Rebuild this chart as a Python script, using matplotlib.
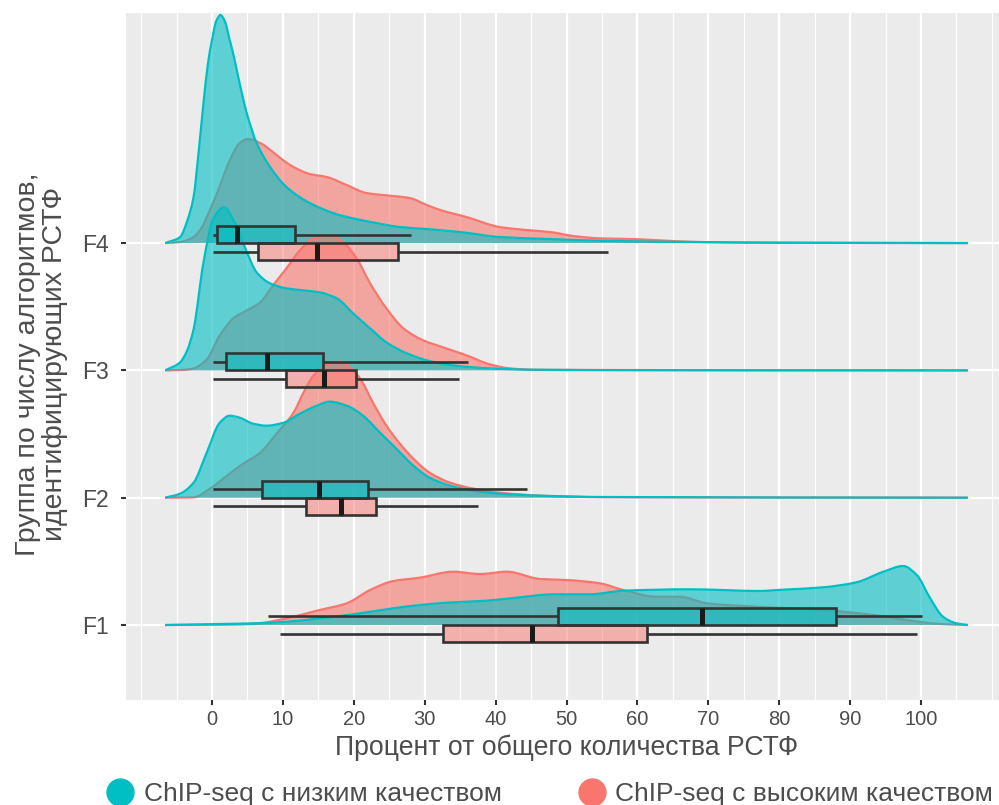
import numpy as np
import matplotlib
matplotlib.use("Agg")
import matplotlib.pyplot as plt
from matplotlib.path import Path
from matplotlib.patches import PathPatch, Rectangle
from matplotlib.lines import Line2D

plt.rcParams['font.family'] = ['Liberation Sans', 'DejaVu Sans']

# groups (bottom to top) and quality classes
groups = ['F1', 'F2', 'F3', 'F4']
labels_low = 'ChIP-seq с низким качеством'
labels_high = 'ChIP-seq с высоким качеством'
teal = '#00BFC4'
red = '#F8766D'

# density estimates, height in ridge units x 127.3
dens_low = {
    'F4': ([-6.6, -4.5, -3.5, -2.6, -1.9, -1.2, -0.6, 0, 0.6, 1.2, 1.8, 2.5, 3.1, 3.7, 4.9, 6.3, 8.2,
            10.5, 13.8, 18, 23.2, 26.5, 30.3, 35, 40.6, 47.7, 54.7, 68.8, 80, 106.6],
           [0, 6, 22, 46, 90, 140, 178, 203, 222, 228, 222, 203, 186, 166, 130, 100, 76,
            56, 40, 28, 20, 16, 14, 11, 6, 4, 2.3, 1, 0.4, 0]),
    'F3': ([-6.6, -4.5, -3.5, -2.6, -1.2, 0.2, 1.7, 3.2, 4.7, 6.3, 8.2, 10.5, 12.9, 15.2, 17.6, 19.9,
            22.3, 24.6, 27.5, 30.3, 34, 39.2, 45, 60, 106.6],
           [0, 8, 20, 41, 108, 152, 163, 148, 122, 98, 87, 82, 80, 78, 72, 57,
            42, 28, 17, 10, 5, 2, 0.7, 0.2, 0]),
    'F2': ([-6.6, -4.5, -2.6, -0.75, 1.1, 2.5, 3.9, 5.8, 7.7, 10.1, 12.4, 14.8, 16.6, 19, 21.3, 23.7,
            26, 28.4, 30.7, 33.6, 36.9, 40.6, 46.3, 55, 106.6],
           [0, 4, 15, 45, 75, 82, 80, 74, 72, 75, 84, 92, 96, 92, 82, 65,
            49, 32, 20, 12, 7, 4, 2, 0.7, 0]),
    'F1': ([-6.6, 1.1, 5.8, 10.5, 15.2, 19.9, 24.6, 29.3, 34, 38.7, 43.4, 48.1, 53.3, 58, 67.4, 72,
            76.8, 81, 86.2, 90.9, 94.7, 97.5, 99.4, 101.3, 103.1, 105, 106.6],
           [0, 1, 1.7, 3.3, 6.7, 10.7, 15.7, 20, 22.7, 24.3, 27.7, 30.7, 30.7, 34.3, 35.7, 35,
            34, 35.5, 37.7, 42.7, 53.3, 59, 50, 26.7, 8.3, 1.7, 0]),
}
dens_high = {
    'F4': ([-6.6, -4.5, -2.6, -1.5, -0.3, 1, 2.1, 3, 3.9, 5.1, 6.8, 8.6, 10, 11.5, 13.8, 16.2, 19,
            21.8, 25.6, 27.9, 30.3, 32.2, 35.9, 40.6, 44.4, 47.7, 51, 54.7, 59.4, 64.2, 68.8, 80, 106.6],
           [0, 1, 6, 15, 33, 55, 76, 90, 100, 104, 100, 91, 83, 76, 69, 66, 58,
            50, 47, 45, 38, 33, 26, 16, 13, 11, 7, 4.7, 4, 2.3, 1, 0.3, 0]),
    'F3': ([-6.6, -4, -2.6, -0.75, 1.1, 3, 4.9, 6.8, 8.6, 10.5, 12.4, 14.3, 16.6, 18.5, 20.4, 22.3,
            24.6, 27, 29.8, 32.6, 35.9, 39.2, 42, 46, 106.6],
           [0, 0.5, 2, 11, 35, 52, 60, 68, 85, 102, 120, 132, 135, 128, 112, 87,
            62, 42, 30, 23, 15, 6, 2, 0.5, 0]),
    'F2': ([-6.6, -2.6, -0.3, 2.1, 4.4, 6.8, 9.1, 11.5, 12.9, 14.3, 16, 18, 19.5, 20.9, 22.7, 24.6,
            26.5, 28.4, 30.7, 33.6, 36.9, 40.6, 46.3, 55, 106.6],
           [0, 0.3, 9, 22, 34, 45, 64, 85, 105, 122, 132, 136, 130, 119, 95, 72,
            54, 39, 25, 15, 9, 5, 2, 0.5, 0]),
    'F1': ([-6.6, 2, 5.8, 10.5, 15.2, 19, 22.3, 25.6, 29.3, 34, 37.8, 41.6, 46.3, 50, 54.7, 58,
            62.7, 66, 69.8, 76.8, 86.2, 93.3, 98, 102.7, 106.6],
           [0, 0.3, 1, 6.7, 15, 21.7, 35, 44, 47.3, 53.3, 51, 53.3, 46, 45, 41.7, 35,
            28.3, 28.3, 21.7, 18.3, 15, 10, 5, 1, 0]),
}
dens_scale = 1 / 127.3

# boxplot stats: whisker low, Q1, median, Q3, whisker high
box_low = {
    'F4': [0.1, 0.7, 3.5, 11.7, 28.0],
    'F3': [0.1, 2.0, 7.7, 15.6, 36.1],
    'F2': [0.1, 7.1, 15.1, 22.0, 44.4],
    'F1': [7.9, 48.8, 69.1, 88.0, 100.1],
}
box_high = {
    'F4': [0.1, 6.5, 14.8, 26.3, 55.8],
    'F3': [0.1, 10.5, 15.8, 20.3, 34.8],
    'F2': [0.1, 13.3, 18.2, 23.1, 37.5],
    'F1': [9.6, 32.6, 45.2, 61.3, 99.5],
}


def smooth_verts(x, y):
    # monotone cubic (PCHIP tangents) as bezier segments
    x = np.asarray(x, float)
    y = np.asarray(y, float)
    h = np.diff(x)
    d = np.diff(y) / h
    m = np.zeros_like(x)
    m[0], m[-1] = d[0], d[-1]
    for k in range(1, len(x) - 1):
        if d[k - 1] * d[k] > 0:
            w1 = 2 * h[k] + h[k - 1]
            w2 = h[k] + 2 * h[k - 1]
            m[k] = (w1 + w2) / (w1 / d[k - 1] + w2 / d[k])
    verts = [(x[0], y[0])]
    codes = [Path.MOVETO]
    for k in range(len(x) - 1):
        verts += [(x[k] + h[k] / 3, y[k] + m[k] * h[k] / 3),
                  (x[k + 1] - h[k] / 3, y[k + 1] - m[k + 1] * h[k] / 3),
                  (x[k + 1], y[k + 1])]
        codes += [Path.CURVE4] * 3
    return verts, codes


def ridge(ax, x, h, base, color, z):
    verts, codes = smooth_verts(x, base + np.asarray(h) * dens_scale)
    fill = Path(verts + [(x[-1], base), (x[0], base), (x[0], base)],
                codes + [Path.LINETO, Path.LINETO, Path.CLOSEPOLY])
    ax.add_patch(PathPatch(fill, facecolor=color, edgecolor='none', alpha=0.6, zorder=z))
    ax.add_patch(PathPatch(Path(verts, codes), facecolor='none', edgecolor=color,
                           lw=1.6, zorder=z + 0.1))


def boxplot(ax, stats, yc, color, hgt=0.134):
    lo, q1, med, q3, hi = stats
    ax.plot([lo, q1], [yc, yc], color='#333333', lw=1.9, zorder=10, solid_capstyle='butt')
    ax.plot([q3, hi], [yc, yc], color='#333333', lw=1.9, zorder=10, solid_capstyle='butt')
    ax.add_patch(Rectangle((q1, yc - hgt / 2), q3 - q1, hgt, facecolor=color, alpha=0.5,
                           edgecolor='none', zorder=10))
    ax.add_patch(Rectangle((q1, yc - hgt / 2), q3 - q1, hgt, facecolor='none',
                           edgecolor='#333333', lw=1.9, zorder=10.1))
    ax.plot([med, med], [yc - hgt / 2, yc + hgt / 2], color='#1a1a1a', lw=3.6, zorder=10.2,
            solid_capstyle='butt')


fig = plt.figure(figsize=(9.99, 8.05), dpi=100)
ax = fig.add_axes([126 / 999, 1 - 700 / 805, 1 - 126 / 999, (700 - 13) / 805])
ax.set_facecolor('#EBEBEB')
for s in ax.spines.values():
    s.set_visible(False)

ax.set_xlim(-12.13, 111.0)
ax.set_ylim(0.411, 5.807)
ax.set_xticks(np.arange(0, 101, 10))
ax.set_xticks([v for v in np.arange(-10, 111, 5) if v % 10 != 0 or v < 0 or v > 100], minor=True)
ax.set_yticks(range(1, len(groups) + 1))
ax.set_yticklabels(groups)
ax.grid(which='major', color='white', lw=1.6)
ax.grid(which='minor', axis='x', color='white', lw=0.8)
ax.set_axisbelow(True)
ax.tick_params(which='major', axis='x', length=3.6, width=1.5, color='#333333',
               labelsize=14.5, labelcolor='#4D4D4D', pad=3.5)
ax.tick_params(which='major', axis='y', length=3.6, width=1.5, color='#333333',
               labelsize=16.5, labelcolor='#4D4D4D', pad=9)
ax.tick_params(which='minor', length=0)

# ridges from the top row down so lower rows sit in front
for i in range(len(groups) - 1, -1, -1):
    g = groups[i]
    base = i + 1
    z = 2 + (len(groups) - i)
    ridge(ax, dens_high[g][0], dens_high[g][1], base, red, z)
    ridge(ax, dens_low[g][0], dens_low[g][1], base, teal, z + 0.5)

for i, g in enumerate(groups):
    base = i + 1
    boxplot(ax, box_low[g], base + 0.067, teal)
    boxplot(ax, box_high[g], base - 0.067, red)

fig.text(567 / 999, 1 - 748 / 805, 'Процент от общего количества РСТФ', ha='center', va='center',
         fontsize=19.2, color='#4D4D4D')
fig.text(42 / 999, 1 - 364 / 805, 'Группа по числу алгоритмов,\nидентифицирующих РСТФ',
         ha='center', va='center', rotation=90, fontsize=20.5, color='#4D4D4D', linespacing=1.05)

# legend
for cx, tx, col, lab in [(120, 144, teal, labels_low), (592, 615, red, labels_high)]:
    fig.add_artist(Line2D([cx / 999], [1 - 792 / 805], marker='o', markersize=19.4, color=col,
                          transform=fig.transFigure, linestyle='none'))
    fig.text(tx / 999, 1 - 801 / 805, lab, ha='left', va='baseline', fontsize=19, color='#4D4D4D')

fig.savefig('out.png', dpi=100)
